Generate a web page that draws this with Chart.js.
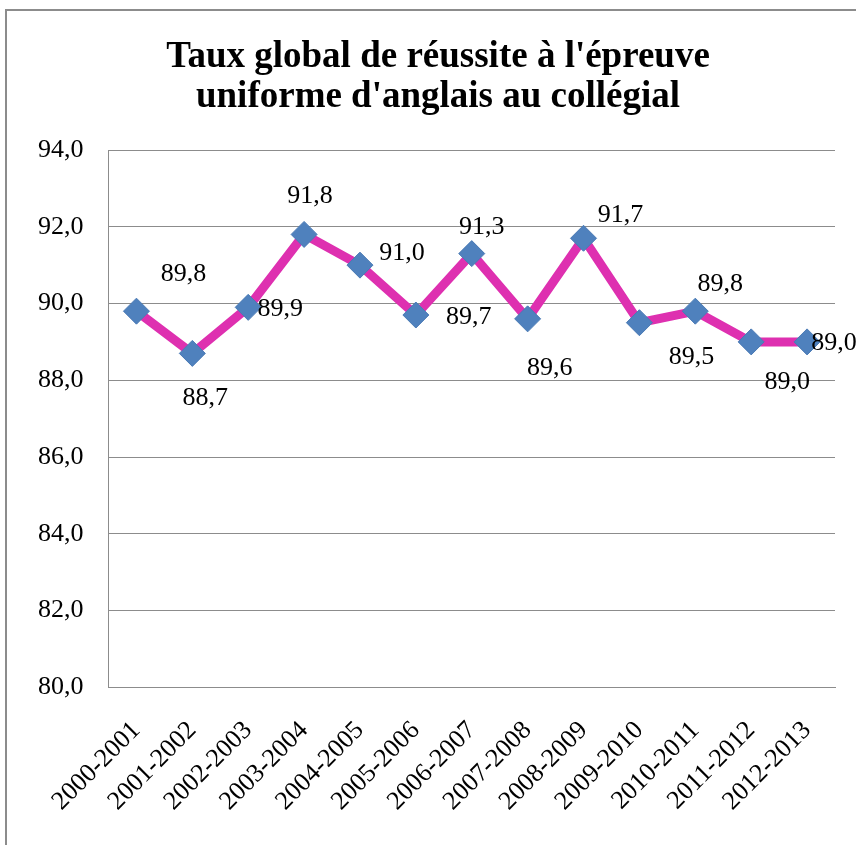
<!DOCTYPE html>
<html>
<head>
<meta charset="utf-8">
<script src="https://cdn.jsdelivr.net/npm/chart.js@4.4.0/dist/chart.umd.min.js"></script>
<style>
  html, body { margin: 0; padding: 0; background: #fff; overflow: hidden; }
  #wrap { width: 856px; height: 845px; overflow: hidden; position: relative; }
</style>
</head>
<body>
<div id="wrap"><canvas id="line-chart" width="876" height="845"></canvas></div>
<script>
// school years and global success rate (%)
let labels = ['2000-2001', '2001-2002', '2002-2003', '2003-2004', '2004-2005', '2005-2006',
  '2006-2007', '2007-2008', '2008-2009', '2009-2010', '2010-2011', '2011-2012', '2012-2013'];
let values = [89.8, 88.7, 89.9, 91.8, 91.0, 89.7, 91.3, 89.6, 91.7, 89.5, 89.8, 89.0, 89.0];

let titleLines = ["Taux global de réussite à l'épreuve", "uniforme d'anglais au collégial"];

let yMin = 80;
let yMax = 94;
let yStep = 2;

// where each value label sits relative to its point (dx, dy)
let labelOffsets = [
  [47, -37], [13, 45], [32, 2], [6, -38], [42, -12], [53, 2], [10, -26],
  [22, 49], [37, -23], [52, 34], [25, -27], [36, 40], [27, 1]
];

let fmt = v => v.toFixed(1).replace('.', ',');
let serif = "'Liberation Serif', 'Times New Roman', serif";

// white background, the chart frame (cut off on the right/bottom) and the title
let framePlugin = {
  id: 'frame',
  beforeDraw(chart) {
    const ctx = chart.ctx;
    ctx.save();
    ctx.fillStyle = '#fff';
    ctx.fillRect(0, 0, chart.width, chart.height);
    ctx.strokeStyle = '#8c8c8c';
    ctx.lineWidth = 2;
    ctx.beginPath();
    ctx.moveTo(6, chart.height);
    ctx.lineTo(6, 10);
    ctx.lineTo(chart.width, 10);
    ctx.stroke();

    ctx.fillStyle = '#000';
    ctx.font = 'bold 37px ' + serif;
    ctx.textAlign = 'center';
    ctx.textBaseline = 'middle';
    ctx.fillText(titleLines[0], 438, 57);
    ctx.fillText(titleLines[1], 438, 97);
    ctx.restore();
  }
};

let valueLabels = {
  id: 'valueLabels',
  afterDatasetsDraw(chart) {
    const ctx = chart.ctx;
    const meta = chart.getDatasetMeta(0);
    ctx.save();
    ctx.font = '26px ' + serif;
    ctx.fillStyle = '#000';
    ctx.textAlign = 'center';
    ctx.textBaseline = 'middle';
    meta.data.forEach((p, i) => {
      const off = labelOffsets[i];
      ctx.fillText(fmt(values[i]), p.x + off[0], p.y + off[1]);
    });
    ctx.restore();
  }
};

let renderChart = () => {
  let el = document.getElementById('line-chart');
  new Chart(el, {
    type: 'line',
    data: {
      labels: labels,
      datasets: [{
        data: values,
        borderColor: '#DE30B0',
        borderWidth: 9,
        backgroundColor: '#4F81BD',
        pointBackgroundColor: '#4F81BD',
        pointBorderColor: '#4A7AB5',
        pointBorderWidth: 1,
        pointStyle: 'rectRot',
        pointRadius: 13,
        tension: 0,
      }],
    },
    options: {
      responsive: false,
      animation: false,
      layout: { padding: { left: 13, right: 41, top: 150, bottom: 0 } },
      plugins: {
        legend: { display: false },
        tooltip: { enabled: false },
        title: { display: false },
      },
      scales: {
        x: {
          offset: true,
          grid: { display: false, drawTicks: false },
          border: { display: true, color: '#8c8c8c', width: 1 },
          ticks: {
            color: '#000',
            font: { family: serif, size: 26 },
            minRotation: 45,
            maxRotation: 45,
            padding: 28,
            autoSkip: false,
          },
        },
        y: {
          min: yMin,
          max: yMax,
          grid: { color: '#8c8c8c', lineWidth: 1, drawTicks: false },
          border: { display: true, color: '#8c8c8c', width: 1 },
          ticks: {
            stepSize: yStep,
            color: '#000',
            padding: 25,
            font: { family: serif, size: 26 },
            callback: v => fmt(v),
          },
        },
      },
    },
    plugins: [framePlugin, valueLabels],
  });
};

renderChart();
</script>
</body>
</html>
